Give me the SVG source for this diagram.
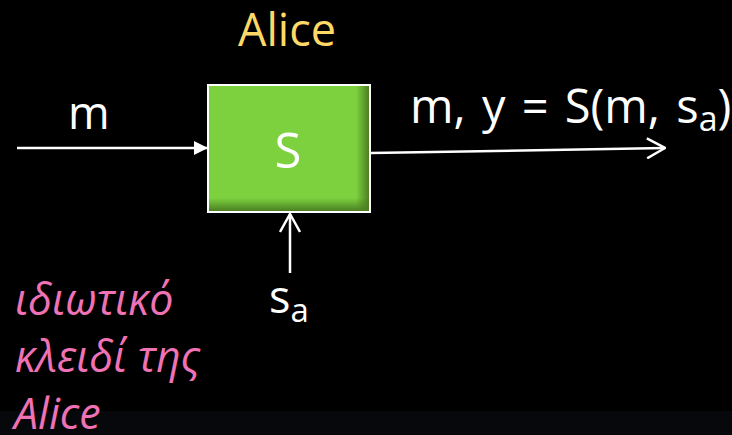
<svg xmlns="http://www.w3.org/2000/svg" width="732" height="435" viewBox="0 0 732 435">
<defs>
<style>
.t{font-family:"Open Sans","Noto Sans",sans-serif;fill:#ffffff;font-size:45px}
.p{font-family:"Open Sans","Noto Sans",sans-serif;fill:#ef72b4;font-size:43px;font-style:italic}
.ln{stroke:#ffffff;stroke-width:2.5;fill:none}
</style>
<linearGradient id="gr" x1="0" y1="0" x2="1" y2="0">
<stop offset="0" stop-color="#4a7f22" stop-opacity="0"/>
<stop offset="1" stop-color="#4a7f22" stop-opacity="1"/>
</linearGradient>
<linearGradient id="gb" x1="0" y1="0" x2="0" y2="1">
<stop offset="0" stop-color="#4a7f22" stop-opacity="0"/>
<stop offset="1" stop-color="#4a7f22" stop-opacity="1"/>
</linearGradient>
<marker id="tri" viewBox="0 0 14 14" refX="14" refY="7" markerWidth="14" markerHeight="14" markerUnits="userSpaceOnUse" orient="auto">
<path d="M0,0 L14,7 L0,14 Z" fill="#ffffff"/>
</marker>
<marker id="vee" viewBox="0 0 20 22" refX="19" refY="11" markerWidth="20" markerHeight="22" markerUnits="userSpaceOnUse" orient="auto">
<path d="M1,1 L19,11 L1,21" fill="none" stroke="#ffffff" stroke-width="2.5"/>
</marker>
</defs>
<rect width="732" height="435" fill="#000000"/>
<rect y="411" width="732" height="24" fill="#07080c"/>
<text x="287" y="46" class="t" style="fill:#ffd966" text-anchor="middle">Alice</text>
<g id="node-s">
<rect x="208" y="85" width="162" height="127" fill="#7dd13f"/>
<rect x="356" y="86" width="13" height="125" fill="url(#gr)"/>
<rect x="209" y="198" width="160" height="13" fill="url(#gb)"/>
<rect x="208" y="85" width="162" height="127" fill="none" stroke="#ffffff" stroke-width="2"/>
<text x="288" y="168" class="t" style="font-size:49px" text-anchor="middle">S</text>
</g>
<g id="connectors">
<line x1="17" y1="148" x2="208" y2="148" class="ln" marker-end="url(#tri)"/>
<line x1="371" y1="153" x2="665" y2="148" class="ln" marker-end="url(#vee)"/>
<line x1="290" y1="273" x2="290" y2="214" class="ln" marker-end="url(#vee)"/>
</g>
<text x="68" y="129" class="t">m</text>
<text x="410" y="123" class="t" style="font-size:47px;word-spacing:4px">m, y = S(m, s<tspan font-size="34" dy="8">a</tspan><tspan dy="-8">)</tspan></text>
<text x="269" y="313" class="t">s<tspan font-size="33" dy="9">a</tspan></text>
<g id="note">
<text x="15" y="315" class="p">ιδιωτικό</text>
<text x="15" y="372" class="p">κλειδί της</text>
<text x="14" y="429" class="p">Alice</text>
</g>
</svg>
